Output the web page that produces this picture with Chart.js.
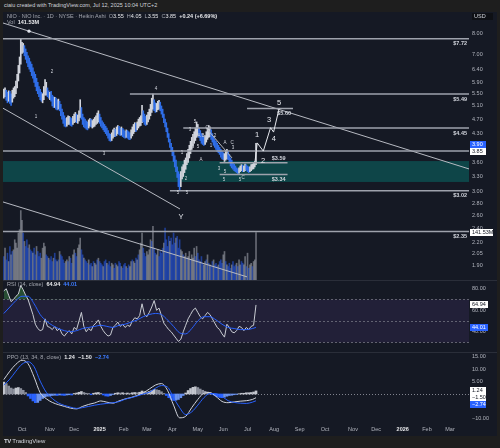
<!DOCTYPE html>
<html><head><meta charset="utf-8"><title>NIO Heikin Ashi</title>
<script src="https://cdn.jsdelivr.net/npm/chart.js@4.4.1/dist/chart.umd.min.js"></script>
<style>
html,body{margin:0;padding:0;background:#1e1e1e;}
body{width:500px;height:448px;position:relative;overflow:hidden;font-family:"Liberation Sans",Arial,sans-serif;}
.abs{position:absolute;white-space:nowrap;line-height:1;}
canvas{position:absolute;display:block;}
.g{color:#a3a6af}.w{color:#e6e7ea}.b{color:#3d7bff}
</style></head><body>
<div class="abs" style="left:4px;top:3px;font-size:5.5px;color:#d1d4dc">ciaiu created with TradingView.com, Jul 12, 2025 10:04 UTC+2</div>
<div class="abs" style="left:3px;top:12px;width:494px;height:424px;background:#151924"></div>
<div class="abs" style="left:3px;top:280px;width:494px;height:1px;background:#2a2e39"></div>
<div class="abs" style="left:3px;top:352px;width:494px;height:1px;background:#2a2e39"></div>
<canvas id="cMain" width="494" height="268" style="left:3px;top:12px;width:494px;height:268px"></canvas>
<canvas id="cRsi" width="494" height="71" style="left:3px;top:281px;width:494px;height:71px"></canvas>
<canvas id="cPpo" width="494" height="83" style="left:3px;top:353px;width:494px;height:83px"></canvas>
<div class="abs" style="left:7px;top:13.5px;font-size:5.5px"><span class="g">NIO · NIO Inc. · 1D · NYSE · Heikin Ashi</span>&nbsp; <span class="g">O</span><span class="w">3.55</span>&nbsp; <span class="g">H</span><span class="w">4.05</span>&nbsp; <span class="g">L</span><span class="w">3.55</span>&nbsp; <span class="g">C</span><span class="w">3.85</span>&nbsp; <b class="w">+0.24 (+6.69%)</b></div>
<div class="abs" style="left:7px;top:20px;font-size:5.5px"><span class="g">Vol</span>&nbsp; <b class="w">141.53M</b></div>
<div class="abs" style="left:472px;top:13px;width:21px;height:7px;background:#0e1015;color:#d1d4dc;font-size:5.5px;line-height:7px;padding-left:2px;box-sizing:border-box">USD</div>
<div class="abs" style="left:7px;top:282px;font-size:5.5px"><span class="g">RSI (14, close)</span>&nbsp; <b class="w">64.94</b>&nbsp; <b class="b">44.01</b></div>
<div class="abs" style="left:7px;top:355px;font-size:5.5px"><span class="g">PPO (13, 34, 8, close)</span>&nbsp; <b class="w">1.24</b>&nbsp; <b class="w">−1.50</b>&nbsp; <b class="b">−2.74</b></div>
<div class="abs" style="left:4px;top:438px;font-size:6px;color:#d1d4dc"><b style="letter-spacing:-0.5px">TV</b> TradingView</div>
<script>
// ---------- DATA (trading-day index 0 = 1 Oct 2024) ----------
const firstIdx = -15;   // 10 Sep 2024
const highs = [
5.66,5.70,5.62,5.55,5.60,5.58,5.50,5.62,5.70,5.75,
5.95,6.20,6.55,6.90,7.72,7.55,7.50,7.40,7.25,7.10,
6.95,6.85,6.70,6.60,6.45,6.30,6.20,6.05,5.90,5.75,
5.65,5.55,5.50,5.75,6.00,5.90,5.70,5.60,5.55,5.58,
5.45,5.40,5.38,5.35,5.30,5.32,5.25,5.15,5.00,4.90,
4.80,4.72,4.75,4.80,4.78,4.75,4.72,4.78,4.85,4.90,
4.85,4.82,4.95,5.30,5.05,4.85,4.75,4.70,4.65,4.62,
4.68,4.72,4.70,4.66,4.70,4.75,4.80,4.88,4.95,4.85,
4.75,4.65,4.60,4.55,4.50,4.45,4.38,4.30,4.28,4.32,
4.40,4.45,4.42,4.48,4.52,4.50,4.45,4.48,4.44,4.40,
4.36,4.40,4.38,4.35,4.32,4.40,4.48,4.55,4.60,4.58,
4.62,4.70,4.75,4.80,5.12,4.95,4.85,4.78,4.82,4.90,
5.00,5.15,5.35,5.49,5.30,5.20,5.18,5.25,5.28,5.22,
5.10,5.00,4.85,4.70,4.60,4.45,4.30,4.15,4.05,3.95,
3.85,3.75,3.65,3.50,3.40,3.35,3.40,3.50,3.55,3.65,
3.70,3.80,3.90,4.00,4.10,4.20,4.28,4.35,4.45,4.62,
4.55,4.45,4.38,4.30,4.25,4.22,4.25,4.35,4.45,4.52,
4.48,4.40,4.30,4.22,4.15,4.10,4.05,4.00,3.95,3.90,
3.85,3.82,3.80,3.85,3.90,3.85,3.78,3.70,3.65,3.60,
3.56,3.52,3.48,3.46,3.48,3.52,3.55,3.54,3.52,3.56,
3.55,3.52,3.50,3.50,3.55,3.56,3.58,3.62,4.05];
const lows = [
5.35,5.40,5.28,5.20,5.25,5.18,5.12,5.22,5.35,5.40,
5.50,5.70,5.95,6.25,6.60,7.05,7.10,6.95,6.80,6.65,
6.50,6.40,6.30,6.15,6.05,5.90,5.75,5.60,5.50,5.40,
5.30,5.25,5.20,5.30,5.45,5.45,5.40,5.35,5.30,5.25,
5.10,5.05,5.05,5.00,4.98,5.00,4.95,4.80,4.70,4.58,
4.50,4.48,4.50,4.55,4.55,4.52,4.50,4.55,4.60,4.62,
4.60,4.58,4.65,4.75,4.70,4.55,4.48,4.45,4.42,4.40,
4.45,4.50,4.48,4.45,4.48,4.50,4.55,4.58,4.62,4.58,
4.50,4.45,4.40,4.35,4.30,4.25,4.18,4.12,4.10,4.12,
4.18,4.22,4.22,4.25,4.30,4.28,4.25,4.26,4.22,4.20,
4.18,4.20,4.18,4.15,4.14,4.18,4.24,4.30,4.35,4.36,
4.40,4.45,4.50,4.52,4.60,4.62,4.55,4.52,4.55,4.62,
4.70,4.80,4.90,5.00,4.95,4.90,4.92,4.98,5.00,4.95,
4.85,4.75,4.60,4.48,4.35,4.20,4.08,3.95,3.85,3.75,
3.62,3.50,3.40,3.28,3.10,3.02,3.10,3.25,3.30,3.38,
3.45,3.55,3.60,3.70,3.80,3.90,3.98,4.05,4.12,4.20,
4.25,4.20,4.12,4.05,4.02,4.00,4.02,4.08,4.15,4.20,
4.22,4.15,4.08,4.00,3.95,3.90,3.85,3.82,3.78,3.72,
3.68,3.66,3.62,3.65,3.68,3.66,3.60,3.52,3.48,3.45,
3.42,3.40,3.38,3.36,3.37,3.40,3.42,3.40,3.40,3.42,
3.43,3.40,3.38,3.40,3.42,3.45,3.46,3.50,3.55];
// Heikin Ashi candle direction (U = white, D = blue)
const dirs =
"UUDDUDDUUU"+"UUUUUUUDDD"+"DDDDDDDDDD"+"DDUUUUDDUD"+"DDUDDUDDDD"+
"DDUUUDDUUU"+"DUUUDDDDDD"+"UUDUUUUUUD"+"DDDDDDDDDU"+"UUDUUDDUDD"+
"DUDDDUUUUD"+"UUUUUDDDUU"+"UUUUDDUUUD"+"DDDDDDDDDD"+"DDDDDDUUUU"+
"UUUUUUUUUU"+"UDDDDDUUUU"+"UDDDDDDDDD"+"DDUUUDDDDD"+"DDDDUUUDUU"+"DDDUUUUUU";
// volume bar colour (regular candle direction)
const volDirs =
"DUDDUDUDUU"+"UUUUUUDUDD"+"DUDDUDDUDD"+"DUUUUDDUDD"+"DUDDUDUDDD"+
"DUUDUDDUUD"+"DUUUDDUDDD"+"UDDUDUUDUD"+"DDUDDUDDDU"+"UDDUUDDUDD"+
"DUDDUUDUUD"+"UDUUUDDDUU"+"UUDUDDUUDD"+"DDUDDDDUDD"+"DDUDDDUUDU"+
"UDUUDUUUDU"+"DDUDDUUDUD"+"UDDUDDDUDD"+"DUUDUDDDUD"+"DDUDUUDDUU"+"DUDUUDUUU";
const volumes = [ // millions
70,95,60,80,55,100,75,85,90,120,
110,95,140,150,207,178,140,115,100,120,
95,105,90,85,80,95,75,100,85,70,
80,65,95,110,100,75,70,65,60,70,
55,65,80,60,55,60,85,75,70,60,
50,55,60,55,70,65,50,75,90,80,
70,95,105,125,90,75,65,60,55,50,
60,45,50,40,55,50,45,60,65,55,
50,45,40,55,60,50,45,55,40,50,
45,35,50,45,40,55,50,40,35,45,
50,40,35,45,40,55,60,55,50,65,
60,75,90,110,140,95,80,70,85,75,
90,120,115,160,95,80,75,90,70,85,
80,95,110,155,120,100,130,115,125,105,
140,110,125,130,95,120,90,85,75,70,
80,65,70,85,60,75,65,95,70,100,
80,60,55,70,50,45,55,60,75,50,
45,40,55,60,45,50,40,45,55,60,
50,75,85,55,45,40,50,35,45,55,
40,45,50,40,60,45,55,50,45,70,
40,80,35,45,50,40,55,60,141.53];

// every second trading day, starting at firstIdx
const step2Start = -15, step2 = 2;
const rsiVals = [
78,80,74,68,70,73,75,83,
79,74,70,63,56,47,43,41,42,52,
45,44,42,45,41,43,38,36,39,41,
38,44,42,50,58,45,40,43,41,46,
48,51,45,41,38,36,37,44,46,49,
45,47,44,46,45,50,53,52,55,66,
56,54,58,63,69,60,62,55,48,45,
42,40,37,34,31,33,40,46,52,56,
60,62,58,54,52,55,58,56,52,48,
44,42,38,35,47,44,40,39,41,45,
44,41,44,42,45,46,64.94];
const ppoHist = [
4.8,4.2,3.2,2.4,2.0,2.4,2.6,2.2,
1.5,0.6,-0.8,-1.8,-2.8,-3.5,-3.4,-2.6,-1.8,-1.2,
-0.9,-0.8,-0.6,-0.5,-0.6,-0.4,-0.5,-0.6,-0.4,-0.3,
-0.4,0.2,0.4,0.7,1.0,0.6,0.3,0.2,-0.3,0.3,
0.5,0.6,0.3,-0.4,-0.8,-0.9,-0.6,-0.2,0.3,0.5,
0.4,0.5,0.3,0.4,0.3,0.5,0.6,0.5,0.7,1.2,
0.9,0.8,1.0,1.4,1.9,1.7,1.5,0.9,0.2,-0.6,
-1.5,-2.2,-2.6,-2.5,-2.2,-1.5,-0.6,0.4,1.4,2.2,
2.7,2.9,2.6,2.0,1.5,1.1,0.8,0.4,-0.2,-0.7,
-1.1,-1.4,-1.5,-1.3,-0.9,-0.6,-0.5,-0.3,-0.2,0.1,
0.3,0.3,0.5,0.5,0.6,0.8,1.24];

// weekly samples (trading-day index)
const wkIdx = [-15,-10,-5,0,5,10,15,20,25,30,35,40,45,50,55,60,65,70,75,80,85,90,95,100,105,110,115,120,125,130,135,140,145,150,155,160,165,170,175,180,185,190,193];
const rsiMa = [57,63,69,73,73,66,56,50,46,43, 41,40,41,43,44,45,46,45,44,46, 47,49,51,54,56,57,56,51,45,39, 38,43,50,54,54,51,47,44,43,42, 42,43,44.01];
const ppoLine = [5.8,9.2,12.0,13.6,12.2,6.8,0.5,-1.9,-3.4,-4.3, -5.0,-5.7,-6.0,-5.0,-4.2,-3.6,-2.8,-3.3,-3.7,-2.8, -2.0,-1.4,-0.6,0.5,2.0,3.6,4.2,1.5,-4.5,-9.6, -9.0,-5.5,-2.2,0.3,0.6,-1.0,-3.0,-3.5,-3.2,-2.9, -2.7,-2.2,-1.50];
const ppoSignal = [3.6,6.0,9.2,12.0,13.0,11.0,5.2,0.7,-1.8,-3.6, -4.6,-5.3,-5.8,-5.5,-5.0,-4.5,-4.1,-3.8,-3.5,-3.1, -2.1,-1.5,-0.8,0.0,0.7,2.3,3.4,2.8,-1.5,-5.5, -8.3,-7.2,-4.5,-1.5,0.2,0.1,-1.0,-2.7,-3.4,-3.7, -3.8,-3.3,-2.74];

// time axis labels (index of first trading day of the month)
const monthIdx = [0,23,43,64,84,103,124,145,166,186,208,229,250,273,292,314,334,353];
const monthLabels = ['Oct','Nov','Dec','2025','Feb','Mar','Apr','May','Jun','Jul','Aug','Sep','Oct','Nov','Dec','2026','Feb','Mar'];
const priceTicks = [8.00,7.00,6.40,5.90,5.50,5.10,4.70,4.30,3.60,3.30,3.00,2.80,2.60,2.40,2.20,2.05,1.90];
const rsiTicks = [80,60,40];
const ppoTicks = [15,10,5,-5,-10];

// drawings (index, price)
const levelLines = [[7.72,null,'$7.72'],[5.49,89,'$5.49'],[4.45,133,'$4.45'],[3.86,null,''],[3.02,122,'$3.02'],[2.35,null,'$2.35']];
const zoneTop = 3.63, zoneBottom = 3.19;
const shortLines = [[3.59,163,219,'$3.59',-1],[3.34,163,219,'$3.34',1],[5.02,185.6,223.5,'$5.60',1]];
const trendLines = [[-15.7,8.51,368.7,3.457],[-15.7,5.03,130.3,2.70],[-15.7,2.82,185.6,1.776],[152.6,4.42,173.2,3.70]];
const projection = [[192.2,3.62],[194,4.06],[199,3.86],[205,4.46],[207.5,4.34],[212,5.01]];
const bigLabels = [['1',193.8,4.26],['2',198.8,3.63],['3',203.7,4.67],['4',207.8,4.16],['5',212,5.19],['Y',131.1,2.57]];
const tinyLabels = [['1',11.5,4.76],['2',24.7,6.29],['3',67.6,3.79],['4',110.5,5.68],['5',142.7,4.62],['3',138.6,4.41],
 ['A',146,4.24],['B',149.3,4.24],['C',152.6,4.45],['2',159.2,4.24],['1',132,3.83],['3',141,3.97],['5',145.2,3.97],
 ['1',155.9,3.99],['A',147.6,3.66],['2',135.3,3.26],['5',128.7,2.99],['5',136,2.99],['A',167.4,4.06],['C',173.2,4.06],
 ['3',174,3.94],['3',162.5,3.47],['5',167.4,3.40],['5',166.6,3.24],['5',179.8,3.24],['C',182.3,3.27]];

// ---------- CHARTS ----------
Chart.defaults.font.family = '"Liberation Sans", Arial, sans-serif';
Chart.defaults.font.size = 5.5;
Chart.defaults.color = '#b2b5be';
Chart.defaults.animation = false;
Chart.defaults.plugins.legend.display = false;
Chart.defaults.plugins.tooltip.enabled = false;

const FONT = '"Liberation Sans", Arial, sans-serif';
const X_MIN = -15.67, X_MAX = 368.66;
const xHidden = {type:'linear', min:X_MIN, max:X_MAX, display:false, offset:false, bounds:'data', grid:{display:false}};
const fitW = s => { s.width = 28; s.paddingTop = 0; s.paddingBottom = 0; };
const UP = '#d1d4dc', DOWN = '#2f6ee8';

const dayIdx = highs.map((_, i) => firstIdx + i);
const idx2 = rsiVals.map((_, i) => step2Start + step2 * i);

function axisBox(ctx, a, y, text, bg, fg, w) {
  ctx.fillStyle = bg;
  ctx.fillRect(a.right + 1, Math.round(y - 3.5), w, 7);
  ctx.fillStyle = fg;
  ctx.font = '5.5px ' + FONT;
  ctx.textAlign = 'left'; ctx.textBaseline = 'middle';
  ctx.fillText(text, a.right + 3, Math.round(y - 3.5) + 3.8);
}

const mainDecor = {
  id: 'mainDecor',
  beforeDatasetsDraw(c) {
    const {ctx, chartArea: a, scales: {y}} = c;
    const t = y.getPixelForValue(zoneTop), b = y.getPixelForValue(zoneBottom);
    ctx.save(); ctx.fillStyle = '#0e4548'; ctx.fillRect(a.left, t, a.right - a.left, b - t); ctx.restore();
  },
  afterDatasetsDraw(c) {
    const {ctx, chartArea: a, scales: {x, y}} = c;
    const px = v => x.getPixelForValue(v), py = v => y.getPixelForValue(v);
    ctx.save();
    ctx.beginPath(); ctx.rect(a.left, a.top, a.right - a.left, a.bottom - a.top); ctx.clip();
    ctx.strokeStyle = '#b7bac2'; ctx.lineWidth = 1;
    trendLines.forEach(l => { ctx.beginPath(); ctx.moveTo(px(l[0]), py(l[1])); ctx.lineTo(px(l[2]), py(l[3])); ctx.stroke(); });
    ctx.fillStyle = '#e0e3eb'; ctx.beginPath(); ctx.arc(px(5.8), py(8.09), 1.6, 0, Math.PI * 2); ctx.fill();
    ctx.strokeStyle = '#9ea2ac'; ctx.lineWidth = 1.5;
    ctx.font = 'bold 5.5px ' + FONT; ctx.fillStyle = '#d1d4dc'; ctx.textAlign = 'right'; ctx.textBaseline = 'middle';
    levelLines.forEach(l => {
      const yy = py(l[0]); const x0 = l[1] === null ? a.left : px(l[1]);
      ctx.beginPath(); ctx.moveTo(x0, yy); ctx.lineTo(a.right, yy); ctx.stroke();
      if (l[2]) ctx.fillText(l[2], a.right - 2, yy + 5);
    });
    shortLines.forEach(l => {
      const yy = py(l[0]);
      ctx.beginPath(); ctx.moveTo(px(l[1]), yy); ctx.lineTo(px(l[2]), yy); ctx.stroke();
      ctx.fillText(l[3], px(l[2]) - 2, yy + l[4] * 4.5);
    });
    ctx.strokeStyle = '#e6e8ee'; ctx.lineWidth = 1;
    ctx.beginPath(); projection.forEach((p, i) => { const X = px(p[0]), Y = py(p[1]); i ? ctx.lineTo(X, Y) : ctx.moveTo(X, Y); }); ctx.stroke();
    ctx.textAlign = 'center';
    ctx.font = '7.5px ' + FONT; ctx.fillStyle = '#e6e8ee';
    bigLabels.forEach(l => ctx.fillText(l[0], px(l[1]), py(l[2])));
    ctx.font = '4.5px ' + FONT; ctx.fillStyle = '#d1d4dc';
    tinyLabels.forEach(l => ctx.fillText(l[0], px(l[1]), py(l[2])));
    ctx.restore();
  },
  afterDraw(c) {
    const {ctx, chartArea: a, scales: {y, yv}} = c;
    ctx.save();
    const yc = y.getPixelForValue(3.85);
    axisBox(ctx, a, yc - 7, '3.90', '#2962ff', '#ffffff', 16);
    axisBox(ctx, a, yc, '3.85', '#ffffff', '#131722', 16);
    axisBox(ctx, a, yv.getPixelForValue(volumes[volumes.length - 1]), '141.53M', '#ffffff', '#131722', 23);
    ctx.restore();
  }
};

new Chart(document.getElementById('cMain'), {
  type: 'bar',
  data: { datasets: [
    { data: dayIdx.map((d, i) => ({x: d, y: [lows[i], highs[i]]})),
      backgroundColor: dirs.split('').map(c => c === 'U' ? UP : DOWN),
      barThickness: 1, yAxisID: 'y', order: 1, grouped: false },
    { data: dayIdx.map((d, i) => ({x: d, y: volumes[i]})),
      backgroundColor: volDirs.split('').map(c => c === 'U' ? 'rgba(170,173,182,0.55)' : 'rgba(41,98,255,0.5)'),
      barThickness: 1, yAxisID: 'yv', order: 2, grouped: false }
  ]},
  options: {
    responsive: false, devicePixelRatio: 1, events: [],
    layout: {padding: 0},
    scales: {
      x: xHidden,
      y: { type: 'logarithmic', position: 'right', min: 1.742, max: 9.107, bounds: 'data',
           afterFit: fitW, afterBuildTicks: s => { s.ticks = priceTicks.map(v => ({value: v})); },
           ticks: {padding: 3, callback: v => Number(v).toFixed(2), color: '#b2b5be'},
           grid: {display: false, drawTicks: false}, border: {display: false} },
      yv: { type: 'linear', display: false, min: 0, max: 799 }
    }
  },
  plugins: [mainDecor]
});

const rsiDecor = {
  id: 'rsiDecor',
  beforeDatasetsDraw(c) {
    const {ctx, chartArea: a, scales: {y}} = c;
    ctx.save();
    ctx.fillStyle = 'rgba(126,87,194,0.13)';
    ctx.fillRect(a.left, y.getPixelForValue(70), a.right - a.left, y.getPixelForValue(30) - y.getPixelForValue(70));
    ctx.strokeStyle = 'rgba(120,123,134,0.75)'; ctx.lineWidth = 1; ctx.setLineDash([2, 2]);
    [70, 50, 30].forEach(v => { const yy = Math.round(y.getPixelForValue(v)) + 0.5; ctx.beginPath(); ctx.moveTo(a.left, yy); ctx.lineTo(a.right, yy); ctx.stroke(); });
    ctx.restore();
  },
  afterDraw(c) {
    const {ctx, chartArea: a, scales: {y}} = c;
    ctx.save();
    axisBox(ctx, a, y.getPixelForValue(64.94), '64.94', '#ffffff', '#131722', 18);
    axisBox(ctx, a, y.getPixelForValue(44.01), '44.01', '#2962ff', '#ffffff', 18);
    ctx.restore();
  }
};

new Chart(document.getElementById('cRsi'), {
  type: 'line',
  data: { datasets: [
    { data: idx2.map((d, i) => ({x: d, y: rsiVals[i]})), borderColor: '#c9ccd3', borderWidth: 1, pointRadius: 0, tension: 0,
      fill: {target: {value: 70}, above: 'rgba(76,175,80,0.35)', below: 'rgba(0,0,0,0)'}, order: 1 },
    { data: wkIdx.map((d, i) => ({x: d, y: rsiMa[i]})), borderColor: '#2962ff', borderWidth: 1, pointRadius: 0,
      cubicInterpolationMode: 'monotone', fill: false, order: 0 }
  ]},
  options: {
    responsive: false, devicePixelRatio: 1, events: [], layout: {padding: 0},
    scales: {
      x: xHidden,
      y: { type: 'linear', position: 'right', min: 21.16, max: 87.2, bounds: 'data', afterFit: fitW,
           afterBuildTicks: s => { s.ticks = rsiTicks.map(v => ({value: v})); },
           ticks: {padding: 3, callback: v => Number(v).toFixed(2)},
           grid: {display: false, drawTicks: false}, border: {display: false} }
    }
  },
  plugins: [rsiDecor]
});

const ppoDecor = {
  id: 'ppoDecor',
  beforeDatasetsDraw(c) {
    const {ctx, chartArea: a, scales: {y}} = c;
    ctx.save();
    ctx.strokeStyle = 'rgba(140,143,154,0.9)'; ctx.lineWidth = 1; ctx.setLineDash([1, 2]);
    const yy = Math.round(y.getPixelForValue(0)) + 0.5;
    ctx.beginPath(); ctx.moveTo(a.left, yy); ctx.lineTo(a.right, yy); ctx.stroke();
    ctx.restore();
  },
  afterDraw(c) {
    const {ctx, chartArea: a, scales: {y}} = c;
    ctx.save();
    let prev = -1e9;
    [[1.24, '1.24', '#ffffff', '#131722'], [-1.50, '−1.50', '#ffffff', '#131722'], [-2.74, '−2.74', '#2962ff', '#ffffff']].forEach(b => {
      let yy = Math.max(y.getPixelForValue(b[0]), prev + 7); prev = yy;
      axisBox(ctx, a, yy, b[1], b[2], b[3], 16);
    });
    ctx.restore();
  }
};

new Chart(document.getElementById('cPpo'), {
  type: 'bar',
  data: { datasets: [
    { type: 'line', data: wkIdx.map((d, i) => ({x: d, y: ppoLine[i]})), borderColor: '#d1d4dc', borderWidth: 1, pointRadius: 0,
      cubicInterpolationMode: 'monotone', order: 1 },
    { type: 'line', data: wkIdx.map((d, i) => ({x: d, y: ppoSignal[i]})), borderColor: '#2962ff', borderWidth: 1, pointRadius: 0,
      cubicInterpolationMode: 'monotone', order: 0 },
    { type: 'bar', data: idx2.map((d, i) => ({x: d, y: ppoHist[i]})), barThickness: 2, grouped: false, order: 3,
      backgroundColor: ppoHist.map((v, i) => { const p = i ? ppoHist[i - 1] : v;
        if (v >= 0) return v >= p ? '#c3c6ce' : '#8b8f9b'; return v <= p ? '#2962ff' : '#6a92ee'; }) }
  ]},
  options: {
    responsive: false, devicePixelRatio: 1, events: [], layout: {padding: 0},
    scales: {
      x: { type: 'linear', min: X_MIN, max: X_MAX, offset: false, bounds: 'data', position: 'bottom',
           afterFit: s => { s.height = 14; s.paddingLeft = 0; s.paddingRight = 0; },
           afterBuildTicks: s => { s.ticks = monthIdx.map(v => ({value: v})); },
           ticks: { autoSkip: false, maxRotation: 0, padding: 4,
             callback: (v, i) => monthLabels[i],
             color: ctx => /^\d{4}$/.test(monthLabels[ctx.index]) ? '#e6e7ea' : '#b2b5be',
             font: ctx => ({ size: 5.5, weight: /^\d{4}$/.test(monthLabels[ctx.index]) ? 'bold' : 'normal' }) },
           grid: {display: false, drawTicks: false}, border: {display: false} },
      y: { type: 'linear', position: 'right', min: -11.29, max: 16.53, bounds: 'data', afterFit: fitW,
           afterBuildTicks: s => { s.ticks = ppoTicks.map(v => ({value: v})); },
           ticks: {padding: 3, callback: v => (v < 0 ? '−' : '') + Math.abs(v).toFixed(2)},
           grid: {display: false, drawTicks: false}, border: {display: false} }
    }
  },
  plugins: [ppoDecor]
});
</script>
</body></html>
